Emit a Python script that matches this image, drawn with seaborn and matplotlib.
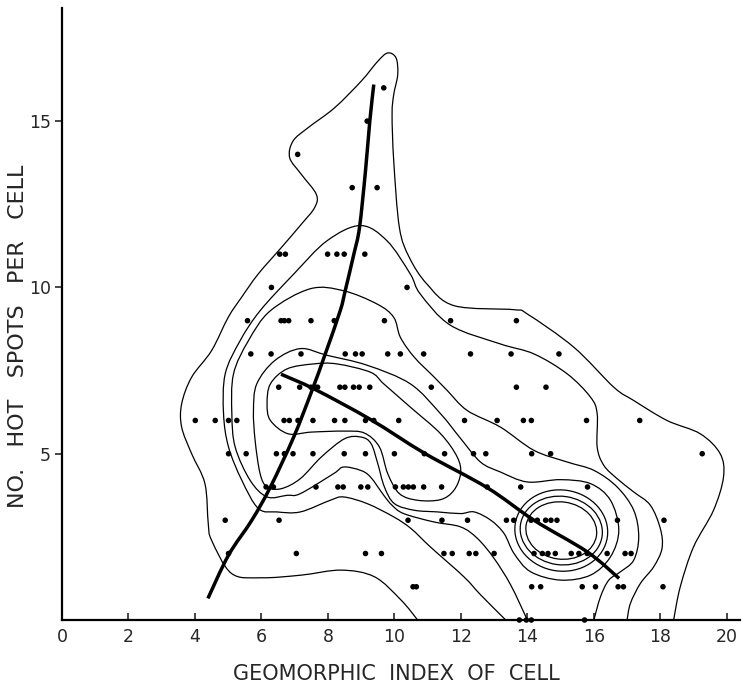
import numpy as np
import pandas as pd
import matplotlib
matplotlib.use("Agg")
import matplotlib.pyplot as plt
import seaborn as sns
from matplotlib.patches import Ellipse, PathPatch
from matplotlib.path import Path

# ---------------- data: dots (x positions per row of hot-spot count) -------------
dots_at_16 = [9.68]
dots_at_15 = [9.18]
dots_at_14 = [7.09]
dots_at_13 = [8.73, 9.48]
dots_at_11 = [6.55, 6.72, 7.99, 8.27, 8.49, 9.11]
dots_at_10 = [6.30, 10.38]
dots_at_9 = [5.58, 6.59, 6.69, 6.82, 7.49, 8.19, 9.70, 11.69, 13.67]
dots_at_8 = [5.68, 6.29, 7.19, 8.52, 8.83, 9.03, 9.80, 10.18, 10.88, 12.29, 13.51, 14.95]
dots_at_7 = [6.52, 7.15, 7.49, 7.62, 7.69, 8.36, 8.51, 8.77, 8.94, 9.26, 11.11, 13.67, 14.56]
dots_at_6 = [4.01, 4.61, 5.01, 5.26, 6.68, 6.84, 7.10, 7.55, 8.20, 8.51, 9.13, 9.38, 10.13,
             12.11, 13.09, 13.88, 14.12, 15.78, 17.38]
dots_at_5 = [5.01, 5.54, 6.45, 6.69, 6.95, 7.55, 8.49, 9.13, 10.00, 10.90, 11.51, 12.38,
             12.75, 14.13, 14.70, 19.26]
dots_at_4 = [6.14, 6.36, 7.64, 8.30, 8.46, 8.99, 9.20, 10.03, 10.27, 10.42, 10.57, 10.88,
             11.42, 12.79, 13.80, 15.81]
dots_at_3 = [4.91, 6.53, 10.41, 11.43, 12.20, 13.37, 13.59, 14.11, 14.30, 14.55, 14.71,
             14.89, 16.71, 18.11]
dots_at_2 = [5.01, 7.05, 9.13, 9.61, 11.49, 11.74, 12.25, 12.45, 13.00, 14.20, 14.45,
             14.62, 14.84, 15.32, 15.55, 15.80, 16.40, 16.94, 17.12]
dots_at_1 = [10.56, 10.66, 14.13, 14.40, 15.65, 16.05, 16.73, 16.89, 18.08]
dots_at_0 = [13.76, 13.97, 14.12, 15.72]

dot_rows = {16: dots_at_16, 15: dots_at_15, 14: dots_at_14, 13: dots_at_13,
            11: dots_at_11, 10: dots_at_10, 9: dots_at_9, 8: dots_at_8, 7: dots_at_7,
            6: dots_at_6, 5: dots_at_5, 4: dots_at_4, 3: dots_at_3, 2: dots_at_2,
            1: dots_at_1, 0: dots_at_0}

# ---------------- data: two fitted heavy curves ----------------
curve_a_x = [4.39, 5.01, 5.71, 6.27, 6.97, 7.52, 7.92, 8.37, 8.52, 8.78, 8.95, 9.13, 9.26, 9.38]
curve_a_y = [0.65, 1.95, 3.00, 4.00, 5.50, 6.90, 8.00, 9.30, 9.90, 11.0, 11.8, 13.5, 15.0, 16.1]
curve_b_x = [6.59, 7.62, 9.28, 10.93, 12.79, 14.20, 15.80, 16.76]
curve_b_y = [7.39, 6.93, 6.03, 5.00, 3.98, 3.00, 2.05, 1.25]

# ---------------- data: density contours ----------------
c1_x = [10.7, 10.2, 9.4, 8.4, 7.2, 6.0, 5.1, 4.5, 4.4, 4.3, 3.9, 3.6, 3.6, 3.9, 4.5, 5.0,
        5.4, 5.9, 6.6, 7.2, 7.6, 7.65, 7.2, 6.85, 6.95, 7.4, 8.2, 9.0, 9.5, 9.8, 10.05,
        10.1, 9.98, 9.93, 9.98, 10.15, 10.45, 10.98, 11.8, 13.6, 14.0, 15.4, 16.6, 17.2,
        18.2, 19.2, 19.8, 19.9, 19.6, 19.0, 18.6, 18.4]
c1_y = [0.0, 0.6, 1.3, 1.5, 1.35, 1.27, 1.4, 2.4, 2.9, 4.1, 5.0, 5.8, 6.5, 7.3, 8.1, 9.1,
        9.7, 10.4, 11.2, 11.9, 12.4, 12.8, 13.4, 13.9, 14.4, 14.8, 15.4, 16.2, 16.8, 17.05,
        16.9, 16.4, 15.8, 15.2, 13.8, 11.8, 10.9, 10.1, 9.45, 9.33, 9.2, 8.2, 7.0, 6.6,
        6.0, 5.6, 5.0, 4.3, 3.3, 2.2, 1.0, 0.0]
c2_x = [13.35, 12.6, 12.09, 11.08, 10.5, 9.98, 9.18, 8.47, 8.07, 7.17, 6.47, 5.91, 5.41,
        5.01, 4.86, 4.91, 5.36, 5.96, 6.97, 7.97, 8.98, 9.78, 10.48, 10.78, 11.69, 13.19,
        14.2, 15.2, 15.9, 16.1, 16.1, 16.3, 16.7, 17.2, 17.7, 18.0, 18.05, 17.8, 17.4,
        17.1, 17.0]
c2_y = [0.0, 0.75, 1.3, 2.2, 2.75, 3.1, 3.5, 3.7, 3.6, 3.25, 3.25, 3.35, 4.2, 5.2, 6.2,
        7.4, 8.4, 9.3, 10.4, 11.4, 11.86, 11.4, 10.4, 9.8, 8.86, 8.3, 8.0, 7.4, 6.7, 6.2,
        5.2, 4.65, 4.25, 3.85, 3.45, 2.75, 2.15, 1.6, 1.1, 0.5, 0.0]
c3_x = [14.0, 13.5, 13.0, 12.5, 11.99, 11.18, 10.28, 9.93, 9.68, 9.28, 8.98, 8.47, 8.17,
        7.17, 6.77, 6.17, 5.66, 5.21, 5.11, 5.16, 5.61, 6.27, 7.47, 8.47, 9.48, 9.98, 10.18,
        10.6, 11.2, 11.59, 12.19, 13.19, 14.2, 15.2, 16.0, 16.7, 17.2, 17.35, 17.2, 16.8,
        16.45, 16.2, 16.0]
c3_y = [0.0, 1.05, 1.85, 2.45, 2.8, 2.95, 3.2, 3.45, 3.75, 4.3, 4.5, 4.6, 4.4, 3.8, 3.75,
        3.7, 4.2, 5.2, 6.2, 7.4, 8.4, 9.3, 9.96, 9.9, 9.5, 9.1, 8.5, 7.9, 7.3, 6.9, 6.3,
        5.8, 5.1, 4.75, 4.5, 4.0, 3.3, 2.5, 1.8, 1.45, 1.2, 0.7, 0.0]
c4_x = [6.6, 7.17, 7.8, 8.5, 9.0, 9.3, 9.5, 9.7, 10.0, 10.6, 11.3, 11.99, 12.4, 12.9,
        13.3, 13.6, 14.1, 15.0, 15.9, 16.5, 16.75, 16.5, 15.9, 15.0, 14.0, 13.19, 12.59,
        11.99, 11.39, 10.48, 9.18, 7.97, 7.17, 6.4, 5.86, 5.76, 5.81, 5.96, 6.17]
c4_y = [3.95, 4.25, 4.9, 5.45, 5.5, 5.3, 4.7, 4.0, 3.5, 3.3, 3.25, 3.2, 3.25, 3.0, 2.6,
        2.0, 1.45, 1.2, 1.35, 1.9, 2.7, 3.6, 4.1, 4.22, 4.15, 4.45, 4.75, 5.46, 6.2, 7.1,
        7.66, 7.96, 8.16, 7.8, 7.1, 6.3, 5.4, 4.4, 4.0]
c5_x = [6.27, 6.77, 7.57, 8.27, 9.28, 9.68, 10.48, 11.39, 11.89, 11.99, 11.79, 11.39,
        10.7, 10.15, 9.8, 9.55, 9.1, 8.5, 7.5, 6.8, 6.27, 6.17]
c5_y = [7.1, 7.55, 7.7, 7.7, 7.45, 7.1, 6.4, 5.6, 4.9, 4.4, 3.9, 3.62, 3.6, 3.8, 4.4,
        5.2, 5.62, 5.68, 5.65, 5.6, 6.0, 6.5]
open_contours = [(c1_x, c1_y), (c2_x, c2_y), (c3_x, c3_y)]
closed_contours = [(c4_x, c4_y), (c5_x, c5_y)]

# concentric rings around the second density peak
ring_center = (15.02, 2.69)
ring_rx = [1.07, 1.24, 1.40]
ring_ry = [0.86, 1.03, 1.22]

x_ticks = [0, 2, 4, 6, 8, 10, 12, 14, 16, 18, 20]
y_ticks = [5, 10, 15]
x_label = "GEOMORPHIC  INDEX  OF  CELL"
y_label = "NO.   HOT   SPOTS   PER   CELL"


def smooth_path(xs, ys, closed=False):
    """Catmull-Rom spline through the traced points, drawn as cubic Bezier segments."""
    p = np.column_stack([xs, ys]).astype(float)
    n = len(p)
    if closed:
        idx = lambda i: p[i % n]
        segs = range(n)
    else:
        idx = lambda i: p[min(max(i, 0), n - 1)]
        segs = range(n - 1)
    verts = [idx(0)]
    codes = [Path.MOVETO]
    for i in segs:
        p0, p1, p2, p3 = idx(i - 1), idx(i), idx(i + 1), idx(i + 2)
        verts += [p1 + (p2 - p0) / 6.0, p2 - (p3 - p1) / 6.0, p2]
        codes += [Path.CURVE4] * 3
    return Path(np.array(verts), codes)


# ---------------- build ----------------
dots = pd.DataFrame([(x, y) for y, xs in dot_rows.items() for x in xs],
                    columns=["geomorphic_index", "hot_spots"])

sns.set_style("white")
plt.rcParams["font.family"] = ["DejaVu Sans"]

fig = plt.figure(figsize=(7.46, 6.87), dpi=100)
ax = fig.add_axes([0.0831, 0.0975, 0.909, 0.8908])

for cx, cy in open_contours:
    ax.add_patch(PathPatch(smooth_path(cx, cy), fill=False, edgecolor="black", lw=0.9,
                           zorder=2))
for cx, cy in closed_contours:
    ax.add_patch(PathPatch(smooth_path(cx, cy, closed=True), fill=False,
                           edgecolor="black", lw=0.9, zorder=2))
for rx, ry in zip(ring_rx, ring_ry):
    ax.add_patch(Ellipse(ring_center, 2 * rx, 2 * ry, angle=-8, fill=False,
                         edgecolor="black", lw=0.9, zorder=2))

# heavy curves: seaborn line (invisible carrier for data) + smooth rendering
sns.lineplot(x=curve_a_x, y=curve_a_y, sort=False, estimator=None, color="black",
             lw=0, ax=ax, zorder=3)
sns.lineplot(x=curve_b_x, y=curve_b_y, sort=False, estimator=None, color="black",
             lw=0, ax=ax, zorder=3)
for cx, cy in [(curve_a_x, curve_a_y), (curve_b_x, curve_b_y)]:
    ax.add_patch(PathPatch(smooth_path(cx, cy), fill=False, edgecolor="black", lw=2.5,
                           capstyle="butt", zorder=3))

sns.scatterplot(data=dots, x="geomorphic_index", y="hot_spots", color="black", s=16,
                edgecolor="none", ax=ax, zorder=4, clip_on=False, legend=False)

ax.set_xlim(0, 20.4)
ax.set_ylim(0, 18.4)
ax.set_xticks(x_ticks)
ax.set_yticks(y_ticks)
ax.set_xticklabels([str(t) for t in x_ticks], fontsize=12.5)
ax.set_yticklabels([str(t) for t in y_ticks], fontsize=12.5)
ax.tick_params(axis="x", direction="in", length=5, width=1.2, pad=6, bottom=True)
ax.tick_params(axis="y", direction="out", length=5, width=1.2, pad=3, left=True)
for s in ["top", "right"]:
    ax.spines[s].set_visible(False)
for s in ["left", "bottom"]:
    ax.spines[s].set_linewidth(1.6)
    ax.spines[s].set_color("black")

ax.set_xlabel(x_label, fontsize=15)
ax.set_ylabel(y_label, fontsize=16)
ax.xaxis.set_label_coords(0.493, -0.072)
ax.yaxis.set_label_coords(-0.05, 0.464)

fig.savefig("out.png", dpi=100)
